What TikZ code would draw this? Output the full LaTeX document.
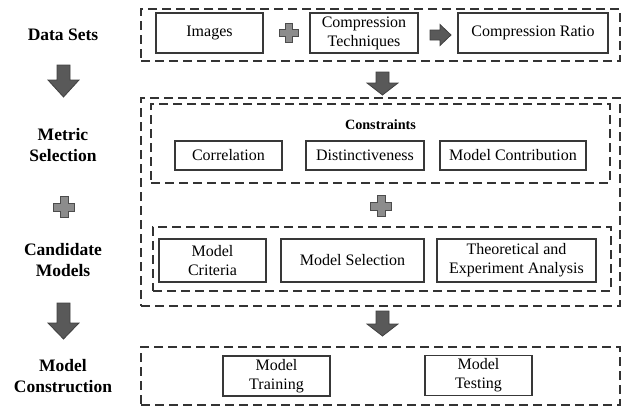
\documentclass[tikz,border=0pt]{standalone}
\usepackage{fontspec}
\setmainfont{Liberation Serif}
\begin{document}
\begin{tikzpicture}[x=1pt,y=-1pt,
  solidbox/.style={draw=black!78, line width=1.1pt, inner sep=0pt, align=center,
    font=\fontsize{16}{19}\selectfont},
  dashbox/.style={draw=black!80, line width=1.4pt, dash pattern=on 9pt off 5pt, inner sep=0pt},
  steplabel/.style={align=center, font=\fontsize{17.5}{21}\selectfont\bfseries},
  blockarrow/.style={fill=black!65, draw=black!75, line width=0.8pt, line join=miter},
  plusmark/.style={fill=black!45, draw=black!70, line width=0.9pt}]
\useasboundingbox (0,0) rectangle (624,407);

% block arrow pointing down: centre x, top y, tip y, head length
\newcommand\blockdown[4]{%
  \draw[blockarrow] (#1-6.5,#2) -- (#1+6.5,#2) -- (#1+6.5,#3-#4) -- (#1+15.5,#3-#4)
    -- (#1,#3) -- (#1-15.5,#3-#4) -- (#1-6.5,#3-#4) -- cycle;}
% plus sign centred at (x,y), half size #3
\newcommand\plusat[3]{%
  \draw[plusmark] (#1-0.38*#3,#2-#3) -- (#1+0.38*#3,#2-#3) -- (#1+0.38*#3,#2-0.38*#3)
    -- (#1+#3,#2-0.38*#3) -- (#1+#3,#2+0.38*#3) -- (#1+0.38*#3,#2+0.38*#3)
    -- (#1+0.38*#3,#2+#3) -- (#1-0.38*#3,#2+#3) -- (#1-0.38*#3,#2+0.38*#3)
    -- (#1-#3,#2+0.38*#3) -- (#1-#3,#2-0.38*#3) -- (#1-0.38*#3,#2-0.38*#3) -- cycle;}

% step labels on the left
\node[steplabel] (lbldata) at (63,35) {Data Sets};
\node[steplabel] (lblmetric) at (63,145.5) {Metric\\Selection};
\node[steplabel] (lblcand) at (63,260.5) {Candidate\\Models};
\node[steplabel] (lblcons) at (63,376) {Model\\Construction};

\blockdown{63.5}{65}{97}{17}
\plusat{64}{207}{10.5}
\blockdown{63.5}{303}{339}{16}

% data sets row
\node[dashbox, minimum width=479, minimum height=52] (rowdata) at (380.5,35) {};
\node[solidbox, minimum width=107, minimum height=40] (images) at (209.5,33) {Images};
\plusat{289}{33}{9.5}
\node[solidbox, minimum width=108, minimum height=40] (comptech) at (364,33) {Compression\\Techniques};
\draw[blockarrow] (430,30) -- (440,30) -- (440,24.5) -- (451,35) -- (440,45.5) -- (440,40) -- (430,40) -- cycle;
\node[solidbox, minimum width=150, minimum height=40] (ratio) at (533,33) {Compression Ratio};

\blockdown{382.5}{72}{95}{12}

% metric selection and candidate models
\node[dashbox, minimum width=479, minimum height=208] (rowmid) at (380.5,202) {};
\node[dashbox, minimum width=459, minimum height=79] (constraints) at (380.5,143.5) {};
\node[font=\fontsize{14.2}{16}\selectfont\bfseries] (constitle) at (380.5,125) {Constraints};
\node[solidbox, minimum width=107, minimum height=29] (corr) at (228.5,155.5) {Correlation};
\node[solidbox, minimum width=118, minimum height=29] (dist) at (365,155.5) {Distinctiveness};
\node[solidbox, minimum width=146, minimum height=29] (contrib) at (513,155.5) {Model Contribution};

\plusat{381}{206}{10.5}

\node[dashbox, minimum width=458, minimum height=64] (candidates) at (382,259) {};
\node[solidbox, minimum width=107, minimum height=43] (criteria) at (212.5,260.5) {Model\\Criteria};
\node[solidbox, minimum width=143, minimum height=43] (modsel) at (352.5,260.5) {Model Selection};
\node[solidbox, minimum width=159, minimum height=43] (analysis) at (516.5,260.5) {Theoretical and\\Experiment Analysis};

\blockdown{382.5}{311}{336}{12}

% model construction row
\node[dashbox, minimum width=479, minimum height=58] (rowcons) at (380.5,376) {};
\node[solidbox, minimum width=107, minimum height=40] (training) at (276.5,376) {Model\\Training};
\node[solidbox, minimum width=107, minimum height=40] (testing) at (478.5,375.5) {Model\\Testing};
\end{tikzpicture}
\end{document}
